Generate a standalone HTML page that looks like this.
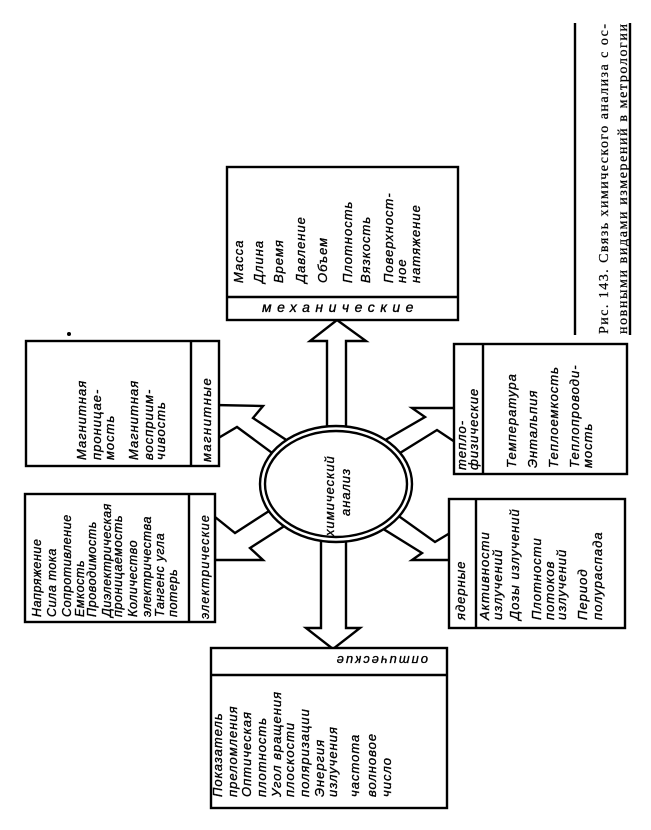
<!DOCTYPE html>
<html><head><meta charset="utf-8"><style>
html,body{margin:0;padding:0;background:#fff;}
svg{display:block;}
.t{font-family:"Liberation Sans","DejaVu Sans",sans-serif;font-style:italic;font-size:13px;letter-spacing:1px;fill:#000;stroke:#000;stroke-width:0.35px;}
.c{font-family:"Liberation Serif","DejaVu Serif",serif;font-size:14px;fill:#000;stroke:#000;stroke-width:0.25px;}
</style></head><body>
<svg width="651" height="830" viewBox="0 0 651 830" xmlns="http://www.w3.org/2000/svg">
<g fill="#fff" stroke="#000" stroke-width="2.4" stroke-linejoin="miter">
<polygon points="327,484 327,341 310,341 337,320 366,341 346,341 346,484"/>
<polygon points="321,484 321,628 306,628 333,649 360,628 346,628 346,484"/>
<polygon points="297,447 253,418 263,406 215,405 215,440 237,427 283,461"/>
<polygon points="283,502 235,533 215,517 215,560 263,560 250,548 297,518"/>
<polygon points="375,446 425,417 412,408 455,408 455,442 437,430 387,461"/>
<polygon points="386,507 435,542 455,530 455,560 412,560 422,553 372,522"/>
<ellipse cx="336" cy="484" rx="76" ry="58"/>
<ellipse cx="336" cy="484" rx="71" ry="53"/>
<rect x="227" y="167" width="231" height="153"/>
<line x1="227" y1="297" x2="458" y2="297"/>
<rect x="26" y="341" width="193" height="125"/>
<line x1="191" y1="341" x2="191" y2="466"/>
<rect x="25" y="494" width="190" height="128"/>
<line x1="189" y1="494" x2="189" y2="622"/>
<rect x="454" y="344" width="173" height="130"/>
<line x1="483" y1="344" x2="483" y2="474"/>
<rect x="449" y="499" width="176" height="129"/>
<line x1="476" y1="499" x2="476" y2="628"/>
<rect x="211" y="648" width="236" height="160"/>
<line x1="211" y1="675" x2="447" y2="675"/>
<line x1="575" y1="23" x2="575" y2="335"/>
<line x1="630" y1="23" x2="630" y2="335"/>
</g>

<text class="t" transform="translate(334,536) rotate(-90)">химический</text>
<text class="t" transform="translate(350,516) rotate(-90)">анализ</text>

<text class="t" x="262" y="312" style="font-size:14px;letter-spacing:5.5px">механические</text>
<g class="t">
<text transform="translate(243,283) rotate(-90)">Масса</text>
<text transform="translate(263,283) rotate(-90)">Длина</text>
<text transform="translate(283,283) rotate(-90)">Время</text>
<text transform="translate(305,283) rotate(-90)">Давление</text>
<text transform="translate(327,283) rotate(-90)">Объем</text>
<text transform="translate(352,283) rotate(-90)">Плотность</text>
<text transform="translate(370,283) rotate(-90)">Вязкость</text>
<text transform="translate(393,283) rotate(-90)">Поверхност-</text>
<text transform="translate(406,283) rotate(-90)">ное</text>
<text transform="translate(420,283) rotate(-90)">натяжение</text>
</g>

<g class="t">
<text transform="translate(211,462) rotate(-90)" style="letter-spacing:1.5px">магнитные</text>
<text transform="translate(86,460) rotate(-90)">Магнитная</text>
<text transform="translate(101,460) rotate(-90)">проницае-</text>
<text transform="translate(114,460) rotate(-90)">мость</text>
<text transform="translate(138,460) rotate(-90)">Магнитная</text>
<text transform="translate(153,460) rotate(-90)">восприим-</text>
<text transform="translate(165,460) rotate(-90)">чивость</text>
</g>

<g class="t" style="font-size:12.5px;letter-spacing:0.6px">
<text transform="translate(209,619) rotate(-90)" style="letter-spacing:1.2px">электрические</text>
<text transform="translate(41,617) rotate(-90)">Напряжение</text>
<text transform="translate(56,617) rotate(-90)">Сила тока</text>
<text transform="translate(71,617) rotate(-90)">Сопротивление</text>
<text transform="translate(84,617) rotate(-90)">Емкость</text>
<text transform="translate(96,617) rotate(-90)">Проводимость</text>
<text transform="translate(111,617) rotate(-90)">Диэлектрическая</text>
<text transform="translate(122,617) rotate(-90)">проницаемость</text>
<text transform="translate(137,617) rotate(-90)">Количество</text>
<text transform="translate(151,617) rotate(-90)">электричества</text>
<text transform="translate(164,617) rotate(-90)">Тангенс угла</text>
<text transform="translate(177,617) rotate(-90)">потерь</text>
</g>

<g class="t">
<text transform="translate(466,470) rotate(-90)">тепло-</text>
<text transform="translate(478,470) rotate(-90)">физические</text>
<text transform="translate(516,468) rotate(-90)">Температура</text>
<text transform="translate(537,468) rotate(-90)">Энтальпия</text>
<text transform="translate(558,468) rotate(-90)">Теплоемкость</text>
<text transform="translate(579,468) rotate(-90)">Теплопроводи-</text>
<text transform="translate(592,468) rotate(-90)">мость</text>
</g>

<g class="t">
<text transform="translate(465,620) rotate(-90)">ядерные</text>
<text transform="translate(489,620) rotate(-90)">Активности</text>
<text transform="translate(502,620) rotate(-90)">излучений</text>
<text transform="translate(519,620) rotate(-90)">Дозы излучений</text>
<text transform="translate(541,620) rotate(-90)">Плотности</text>
<text transform="translate(554,620) rotate(-90)">потоков</text>
<text transform="translate(566,620) rotate(-90)">излучений</text>
<text transform="translate(587,620) rotate(-90)">Период</text>
<text transform="translate(602,620) rotate(-90)">полураспада</text>
</g>

<g class="t">
<text transform="translate(428,656) rotate(180)" style="letter-spacing:2px">оптические</text>
<text transform="translate(222,797) rotate(-90)">Показатель</text>
<text transform="translate(237,797) rotate(-90)">преломления</text>
<text transform="translate(251,797) rotate(-90)">Оптическая</text>
<text transform="translate(266,797) rotate(-90)">плотность</text>
<text transform="translate(281,797) rotate(-90)">Угол вращения</text>
<text transform="translate(294,797) rotate(-90)">плоскости</text>
<text transform="translate(309,797) rotate(-90)">поляризации</text>
<text transform="translate(324,797) rotate(-90)">Энергия</text>
<text transform="translate(337,797) rotate(-90)">излучения</text>
<text transform="translate(359,797) rotate(-90)">частота</text>
<text transform="translate(376,797) rotate(-90)">волновое</text>
<text transform="translate(391,797) rotate(-90)">число</text>
</g>

<text class="c" transform="translate(608,334) rotate(-90)" textLength="310" lengthAdjust="spacing">Рис. 143. Связь химического анализа с ос-</text>
<text class="c" transform="translate(627,334) rotate(-90)" textLength="310" lengthAdjust="spacing">новными видами измерений в метрологии</text>
<circle cx="69" cy="334" r="2" fill="#000"/>
</svg>
</body></html>
